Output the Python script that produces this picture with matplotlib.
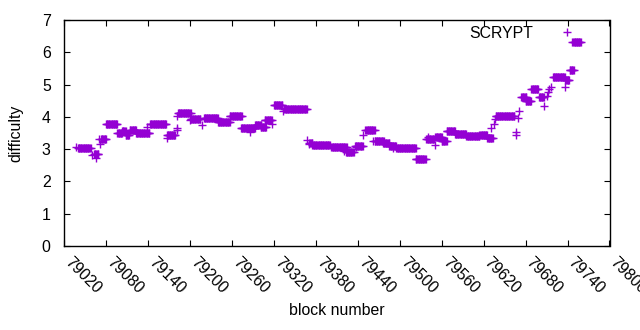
import numpy as np
import matplotlib
matplotlib.use("Agg")
import matplotlib.pyplot as plt

plt.rcParams['font.family'] = ['Liberation Sans', 'DejaVu Sans']

# Plateaus of difficulty: first block, last block, difficulty
seg_start = [79037, 79040, 79060, 79063, 79066, 79070, 79071, 79073, 79080, 79096,
             79103, 79108, 79114, 79123, 79139, 79143, 79167, 79167, 79181, 79181,
             79182, 79183, 79200, 79201, 79217, 79220, 79240, 79257, 79273, 79286,
             79293, 79301, 79307, 79318, 79320, 79333, 79335, 79368, 79370, 79371,
             79375, 79402, 79420, 79423, 79436, 79438, 79448, 79451, 79462, 79464,
             79476, 79485, 79490, 79495, 79523, 79540, 79538, 79551, 79551, 79560,
             79567, 79579, 79595, 79614, 79625, 79631, 79635, 79636, 79637, 79666,
             79666, 79669, 79671, 79674, 79680, 79688, 79699, 79706, 79710, 79712,
             79714, 79717, 79719, 79737, 79737, 79743, 79747]
seg_end = [79037, 79058, 79060, 79069, 79066, 79070, 79071, 79080, 79096, 79103,
           79108, 79113, 79123, 79142, 79139, 79166, 79167, 79179, 79181, 79181,
           79182, 79201, 79200, 79215, 79217, 79240, 79257, 79274, 79293, 79286,
           79302, 79309, 79317, 79318, 79332, 79333, 79367, 79368, 79370, 79375,
           79400, 79424, 79420, 79434, 79447, 79438, 79448, 79464, 79462, 79477,
           79485, 79495, 79490, 79523, 79537, 79540, 79549, 79551, 79560, 79567,
           79579, 79595, 79614, 79625, 79633, 79631, 79635, 79636, 79664, 79666,
           79666, 79669, 79671, 79681, 79688, 79698, 79706, 79706, 79710, 79712,
           79714, 79717, 79736, 79737, 79742, 79749, 79759]
seg_diff = [3.08, 3.05, 2.81, 2.86, 2.74, 3.32, 3.17, 3.32, 3.79, 3.49,
            3.55, 3.45, 3.60, 3.50, 3.68, 3.78, 3.35, 3.43, 3.66, 3.58,
            4.04, 4.13, 3.90, 3.94, 3.76, 3.97, 3.85, 4.03, 3.66, 3.53,
            3.76, 3.70, 3.91, 3.79, 4.38, 4.18, 4.25, 3.27, 3.17, 3.20,
            3.12, 3.07, 2.93, 2.91, 3.10, 3.07, 3.43, 3.60, 3.25, 3.26,
            3.19, 3.10, 3.02, 3.04, 2.68, 3.37, 3.32, 3.12, 3.38, 3.24,
            3.55, 3.48, 3.41, 3.45, 3.33, 3.65, 3.77, 3.92, 4.02, 3.44,
            3.52, 3.97, 4.17, 4.60, 4.50, 4.85, 4.63, 4.34, 4.66, 4.76,
            4.87, 4.94, 5.23, 4.94, 5.15, 5.44, 6.32]

xticks = list(range(79020, 79801, 60))
yticks = list(range(0, 8))

blocks = []
diffs = []
for s, e, d in zip(seg_start, seg_end, seg_diff):
    b = np.arange(s, e + 1)
    blocks.append(b)
    diffs.append(np.full(len(b), d))
blocks = np.concatenate(blocks)
diffs = np.concatenate(diffs)

FS = 11.4
fig = plt.figure(figsize=(6.4, 3.3), dpi=100)
ax = fig.add_axes([64/640, 1 - 246/330, (609.5-64)/640, (246-20)/330])

color = '#9400D3'
ax.plot(blocks, diffs, linestyle='none', marker='+', color=color,
        markersize=5.4, markeredgewidth=1.0, label='SCRYPT')

ax.set_xlim(79020, 79800)
ax.set_ylim(0, 7)
ax.set_xticks(xticks)
ax.set_yticks(yticks)
ax.set_xticklabels([str(t) for t in xticks], rotation=-45, ha='left', va='baseline',
                   rotation_mode='anchor')
ax.tick_params(direction='in', length=4, width=0.8, top=True, right=True,
               labelsize=FS, colors='black')
ax.tick_params(axis='x', pad=12)
ax.tick_params(axis='y', pad=9.6)
for sp in ax.spines.values():
    sp.set_linewidth(1.0)

ax.set_xlabel('block number', fontsize=FS, labelpad=5)
ax.set_ylabel('difficulty', fontsize=FS, labelpad=13)

leg = ax.legend(loc='upper right', bbox_to_anchor=(583/640, 1 - 26/330),
                bbox_transform=fig.transFigure, frameon=False, markerfirst=False,
                borderaxespad=0, borderpad=0, handlelength=2.0,
                handletextpad=1.15, fontsize=FS)

fig.savefig('out.png', dpi=100)
